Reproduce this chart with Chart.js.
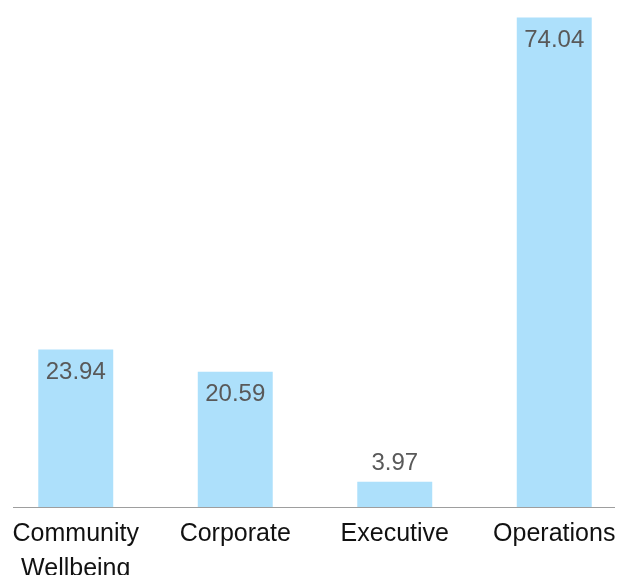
<!DOCTYPE html>
<html>
<head>
<meta charset="utf-8">
<script src="https://cdn.jsdelivr.net/npm/chart.js@4"></script>
<style>
    html, body { margin: 0; padding: 0; background: #fff; overflow: hidden; }
    #wrap { position: relative; width: 620px; height: 575px; overflow: hidden; }
    #myChart { position: absolute; left: -4px; top: 0; }
</style>
</head>
<body>
<div id="wrap"><canvas id="myChart" width="638" height="575"></canvas></div>
<script>
let categorie = [['Community', 'Wellbeing'], 'Corporate', 'Executive', 'Operations']
let valori = [23.94, 20.59, 3.97, 74.04]
let yMax = 76.7

let font = '"Liberation Sans", Arial, sans-serif'

// Etichette dei valori: dentro la barra se c'e' spazio, altrimenti sopra
let etichette = {
    id: 'etichette',
    afterDatasetsDraw(chart) {
        let c = chart.ctx
        let meta = chart.getDatasetMeta(0)
        c.save()
        c.font = '24px ' + font
        c.fillStyle = '#595959'
        c.textAlign = 'center'
        meta.data.forEach((bar, i) => {
            let testo = valori[i].toFixed(2)
            let h = bar.base - bar.y
            if (h > 40) {
                c.textBaseline = 'top'
                c.fillText(testo, bar.x, bar.y + 11)
            } else {
                c.textBaseline = 'alphabetic'
                c.fillText(testo, bar.x, bar.y - 12)
            }
        })
        c.restore()
    }
}

// Linea dell'asse x, un po' piu' corta dell'area del grafico
let asse = {
    id: 'asse',
    afterDatasetsDraw(chart) {
        let c = chart.ctx
        let a = chart.chartArea
        let y0 = chart.scales.y.getPixelForValue(0)
        c.save()
        c.strokeStyle = '#9e9e9e'
        c.lineWidth = 1
        c.beginPath()
        c.moveTo(a.left + 17, Math.round(y0) - 0.5)
        c.lineTo(a.right - 19, Math.round(y0) - 0.5)
        c.stroke()
        c.restore()
    }
}

let ctx = document.getElementById('myChart').getContext('2d')
let myChart = new Chart(ctx, {
    type: 'bar',
    data: {
        labels: categorie,
        datasets: [{
            data: valori,
            backgroundColor: '#ade0fb',
            borderWidth: 0,
            categoryPercentage: 1,
            barPercentage: 0.47
        }]
    },
    options: {
        responsive: false,
        animation: false,
        events: [],
        layout: { padding: 0 },
        plugins: {
            legend: { display: false },
            title: { display: false },
            tooltip: { enabled: false }
        },
        scales: {
            x: {
                grid: { display: false, drawTicks: false },
                border: { display: false },
                ticks: {
                    color: '#111',
                    padding: 9,
                    maxRotation: 0,
                    autoSkip: false,
                    font: { family: font, size: 25, lineHeight: 1.4 }
                },
                afterFit(scale) { scale.height = 67 }
            },
            y: {
                display: false,
                min: 0,
                max: yMax
            }
        }
    },
    plugins: [etichette, asse]
})
</script>
</body>
</html>
